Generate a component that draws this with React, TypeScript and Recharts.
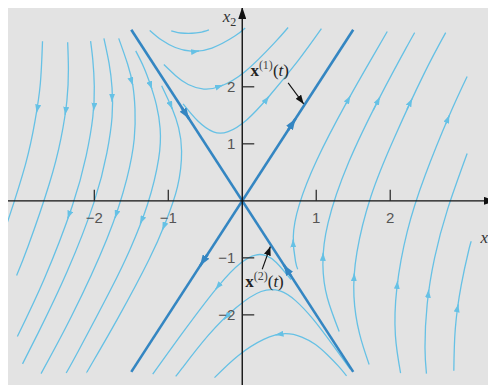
import React from 'react';
import { ComposedChart, Line, XAxis, YAxis, ReferenceDot } from 'recharts';

type P = [number, number];

// Plot window (x1 horizontally, x2 vertically)
const X_DOMAIN: [number, number] = [-3.18, 3.43];
const Y_DOMAIN: [number, number] = [-3.23, 3.4];

// Trajectories in the left sector, listed in the direction of motion (downward)
const leftTrajectories: P[][] = [
  [[-2.7, 2.8], [-2.73, 2.05], [-2.8, 1.41], [-2.93, 0.64], [-3.16, -0.32], [-3.22, -0.54]],
  [[-2.36, 2.78], [-2.35, 2.31], [-2.37, 1.76], [-2.45, 1.1], [-2.61, 0.29], [-2.89, -0.78], [-3.05, -1.31]],
  [[-2.05, 2.8], [-2.02, 2.47], [-2.0, 2.01], [-2.02, 1.47], [-2.11, 0.79], [-2.3, -0.1], [-2.67, -1.35], [-3.04, -2.38]],
  [[-1.87, 2.85], [-1.8, 2.41], [-1.76, 1.98], [-1.76, 1.47], [-1.83, 0.84], [-2.0, -0.01], [-2.37, -1.25], [-2.76, -2.32], [-2.97, -2.86]],
  [[-1.67, 2.85], [-1.55, 2.4], [-1.48, 2.03], [-1.45, 1.61], [-1.46, 1.09], [-1.56, 0.39], [-1.83, -0.67], [-2.31, -2.03], [-2.72, -3.03]],
  [[-1.44, 2.63], [-1.33, 2.34], [-1.24, 2.03], [-1.16, 1.68], [-1.11, 1.27], [-1.13, 0.74], [-1.28, -0.06], [-1.51, -0.83], [-1.78, -1.56], [-2.21, -2.62], [-2.38, -3.02]],
  [[-1.09, 2.02], [-0.945, 1.61], [-0.86, 1.28], [-0.82, 0.87], [-0.875, 0.25], [-1.035, -0.37], [-1.26, -1.03], [-1.69, -2.08], [-2.04, -2.87], [-2.1, -3.01]],
];

// Trajectories in the right sector (upward)
const rightTrajectories: P[][] = [
  [[0.75, -1.2], [0.72, -1.06], [0.69, -0.63], [0.77, -0.07], [1.01, 0.72], [1.4, 1.7], [1.75, 2.5], [1.96, 2.97]],
  [[1.31, -2.29], [1.15, -1.7], [1.09, -1.12], [1.16, -0.385], [1.44, 0.68], [1.86, 1.82], [2.21, 2.67], [2.33, 2.95]],
  [[1.715, -2.87], [1.585, -2.33], [1.51, -1.68], [1.55, -0.905], [1.74, 0.08], [2.05, 1.09], [2.45, 2.21], [2.75, 2.95]],
  [[2.14, -3.02], [2.07, -2.36], [2.09, -1.53], [2.23, -0.54], [2.47, 0.44], [2.8, 1.5], [3.04, 2.18]],
  [[2.49, -3.03], [2.47, -2.57], [2.5, -1.81], [2.6, -1.0], [2.775, -0.15], [3.04, 0.83]],
  [[2.86, -2.98], [2.88, -2.24], [2.96, -1.48], [3.06, -0.875], [3.095, -0.71]],
];

// Trajectories above the origin (left to right)
const upperTrajectories: P[][] = [
  [[-0.96, 2.98], [-0.87, 2.95], [-0.78, 2.94], [-0.68, 2.94], [-0.57, 2.955], [-0.45, 3.0]],
  [[-1.25, 2.99], [-1.09, 2.82], [-0.905, 2.69], [-0.69, 2.625], [-0.41, 2.68], [-0.1, 2.89], [0.04, 3.03]],
  [[-1.06, 2.39], [-0.9, 2.195], [-0.73, 2.04], [-0.52, 1.96], [-0.295, 2.01], [0.04, 2.27], [0.435, 2.77], [0.62, 3.04]],
  [[-0.8, 1.7], [-0.6, 1.4], [-0.39, 1.21], [-0.19, 1.215], [0.06, 1.42], [0.36, 1.83], [0.755, 2.46], [1.07, 3.02]],
];

// Trajectories below the origin (right to left)
const lowerTrajectories: P[][] = [
  [[1.41, -3.07], [1.3, -2.9], [1.15, -2.7], [0.99, -2.52], [0.805, -2.39], [0.58, -2.33], [0.29, -2.43], [-0.06, -2.72], [-0.375, -3.1]],
  [[1.46, -2.95], [1.23, -2.54], [0.96, -2.08], [0.72, -1.75], [0.51, -1.58], [0.255, -1.59], [-0.08, -1.87], [-0.46, -2.36], [-0.81, -2.93], [-0.9, -3.08]],
  [[0.66, -1.38], [0.46, -1.08], [0.32, -0.96], [0.18, -0.95], [-0.02, -1.09], [-0.32, -1.49], [-0.77, -2.25], [-1.21, -3.04]],
];

// Straight-line solutions x(1)(t) and x(2)(t)
const solutionOne: P[] = [[-1.5, -3.0], [1.5, 3.0]];
const solutionTwo: P[] = [[-1.5, 3.0], [1.5, -3.0]];

// Direction arrows on trajectories: [tail, tip]
const trajectoryArrows: [P, P][] = [
  [[-2.76, 1.68], [-2.78, 1.55]],
  [[-2.38, 1.64], [-2.395, 1.51]],
  [[-2.0, 1.69], [-2.01, 1.58]],
  [[-2.33, -0.2], [-2.36, -0.31]],
  [[-1.76, 1.84], [-1.76, 1.74]],
  [[-1.5, 2.11], [-1.48, 2.03]],
  [[-1.69, -0.185], [-1.72, -0.3]],
  [[-1.24, 2.03], [-1.22, 1.96]],
  [[-1.34, -0.285], [-1.38, -0.4]],
  [[-0.964, 1.67], [-0.945, 1.61]],
  [[-1.035, -0.37], [-1.08, -0.51]],
  [[0.689, -0.77], [0.687, -0.677]],
  [[1.4, 1.7], [1.46, 1.84]],
  [[1.09, -1.02], [1.094, -0.912]],
  [[1.77, 1.59], [1.86, 1.82]],
  [[1.51, -1.38], [1.515, -1.27]],
  [[2.225, 1.6], [2.295, 1.79]],
  [[2.09, -1.53], [2.1, -1.405]],
  [[2.75, 1.35], [2.8, 1.5]],
  [[2.51, -1.69], [2.52, -1.56]],
  [[2.9, -1.94], [2.92, -1.815]],
  [[-0.638, 2.62], [-0.585, 2.63]],
  [[-0.327, 2.0], [-0.26, 2.03]],
  [[0.307, 1.74], [0.36, 1.83]],
  [[0.505, -2.34], [0.45, -2.35]],
  [[-0.18, -1.985], [-0.25, -2.08]],
  [[-0.296, -1.45], [-0.36, -1.55]],
];

// Direction arrows on the straight-line solutions
const solutionArrows: [P, P][] = [
  [[0.62, 1.24], [0.72, 1.44]],
  [[-0.47, -0.94], [-0.57, -1.14]],
  [[-0.82, 1.64], [-0.72, 1.44]],
  [[0.66, -1.32], [0.56, -1.12]],
];

// Leader arrows from the labels to the lines
const pointerArrows: [P, P][] = [
  [[0.62, 2.07], [0.83, 1.7]],
  [[0.27, -1.2], [0.38, -0.8]],
];
const labelAnchors: P[] = [[0.11, 2.19], [0.04, -1.51]];
const labelIndices = ['(1)', '(2)'];

const xTicks = [-2, -1, 1, 2];
const xTickLabels = ['\u22122', '\u22121', '1', '2'];
const yTicks = [-2, -1, 1, 2];
const yTickLabels = ['\u22122', '\u22121', '1', '2'];

const xAxisLine: P[] = [[X_DOMAIN[0], 0], [X_DOMAIN[1], 0]];
const yAxisLine: P[] = [[0, Y_DOMAIN[0]], [0, Y_DOMAIN[1]]];

const CURVE = '#66c1e5';
const SOLUTION = '#3486c2';
const BG = '#e3e3e3';
const TICK_TEXT = '#555555';
const SANS = "'Liberation Sans', Arial, Helvetica, sans-serif";
const SERIF = "'Liberation Serif', 'Times New Roman', serif";

const toPts = (arr: P[]) => arr.map(([x, y]) => ({ x, y }));

function curve(key: string, pts: P[], stroke: string, width: number, type: 'natural' | 'linear', marker?: string) {
  return (
    <Line
      key={key}
      data={toPts(pts)}
      dataKey="y"
      type={type}
      stroke={stroke}
      strokeWidth={width}
      dot={false}
      activeDot={false}
      legendType="none"
      isAnimationActive={false}
      markerEnd={marker ? `url(#${marker})` : undefined}
    />
  );
}

export default function App() {
  return (
    <div style={{ marginLeft: -1, marginTop: -1, width: 489, height: 378, background: BG }}>
      <ComposedChart width={489} height={378} margin={{ top: 0, right: 0, bottom: 0, left: 0 }}>
        <defs>
          <marker id="headCurve" markerUnits="userSpaceOnUse" markerWidth={8} markerHeight={6} refX={8} refY={3} orient="auto">
            <path d="M0,0 L8,3 L0,6 Z" fill={CURVE} />
          </marker>
          <marker id="headSolution" markerUnits="userSpaceOnUse" markerWidth={11} markerHeight={8} refX={11} refY={4} orient="auto">
            <path d="M0,0 L11,4 L0,8 Z" fill={SOLUTION} />
          </marker>
          <marker id="headPointer" markerUnits="userSpaceOnUse" markerWidth={9} markerHeight={7} refX={9} refY={3.5} orient="auto">
            <path d="M0,0 L9,3.5 L0,7 Z" fill="#111" />
          </marker>
          <marker id="headAxis" markerUnits="userSpaceOnUse" markerWidth={12} markerHeight={8} refX={12} refY={4} orient="auto">
            <path d="M0,0 L12,4 L0,8 Z" fill="#111" />
          </marker>
        </defs>
        <XAxis hide type="number" dataKey="x" domain={X_DOMAIN} allowDataOverflow />
        <YAxis hide type="number" dataKey="y" domain={Y_DOMAIN} allowDataOverflow />

        {leftTrajectories.map((c, i) => curve(`l${i}`, c, CURVE, 1.3, 'natural'))}
        {rightTrajectories.map((c, i) => curve(`r${i}`, c, CURVE, 1.3, 'natural'))}
        {upperTrajectories.map((c, i) => curve(`u${i}`, c, CURVE, 1.3, 'natural'))}
        {lowerTrajectories.map((c, i) => curve(`d${i}`, c, CURVE, 1.3, 'natural'))}
        {trajectoryArrows.map((a, i) => curve(`ta${i}`, a, CURVE, 1.3, 'linear', 'headCurve'))}

        {curve('s1', solutionOne, SOLUTION, 2.6, 'linear')}
        {curve('s2', solutionTwo, SOLUTION, 2.6, 'linear')}
        {solutionArrows.map((a, i) => curve(`sa${i}`, a, SOLUTION, 2.6, 'linear', 'headSolution'))}

        {curve('ax', xAxisLine, '#111', 1.4, 'linear', 'headAxis')}
        {curve('ay', yAxisLine, '#111', 1.4, 'linear', 'headAxis')}
        {pointerArrows.map((a, i) => curve(`pa${i}`, a, '#111', 1.1, 'linear', 'headPointer'))}

        {xTicks.map((t, i) => (
          <ReferenceDot
            key={`xt${i}`}
            x={t}
            y={0}
            r={0}
            ifOverflow="visible"
            shape={(p: any) => (
              <g>
                <line x1={p.cx} x2={p.cx} y1={p.cy} y2={p.cy - 11} stroke="#222" strokeWidth={1.2} />
                <text x={p.cx} y={p.cy + 22} textAnchor="middle" fontFamily={SANS} fontSize={15} fill={TICK_TEXT}>
                  {xTickLabels[i]}
                </text>
              </g>
            )}
          />
        ))}
        {yTicks.map((t, i) => (
          <ReferenceDot
            key={`yt${i}`}
            x={0}
            y={t}
            r={0}
            ifOverflow="visible"
            shape={(p: any) => (
              <g>
                <line x1={p.cx} x2={p.cx + 12} y1={p.cy} y2={p.cy} stroke="#222" strokeWidth={1.2} />
                <text x={p.cx - 7} y={p.cy + 5.5} textAnchor="end" fontFamily={SANS} fontSize={15} fill={TICK_TEXT}>
                  {yTickLabels[i]}
                </text>
              </g>
            )}
          />
        ))}

        <ReferenceDot
          x={0}
          y={Y_DOMAIN[1]}
          r={0}
          ifOverflow="visible"
          shape={(p: any) => (
            <text x={p.cx - 6} y={p.cy + 15} textAnchor="end" fontFamily={SERIF} fontSize={17} fill="#333">
              <tspan fontStyle="italic">x</tspan>
              <tspan fontSize={12} dy={4}>2</tspan>
            </text>
          )}
        />
        <ReferenceDot
          x={X_DOMAIN[1]}
          y={0}
          r={0}
          ifOverflow="visible"
          shape={(p: any) => (
            <text x={p.cx - 2} y={p.cy + 42} textAnchor="end" fontFamily={SERIF} fontSize={17} fill="#333">
              <tspan fontStyle="italic">x</tspan>
              <tspan fontSize={12} dy={4}>1</tspan>
            </text>
          )}
        />

        {labelAnchors.map(([x, y], i) => (
          <ReferenceDot
            key={`lab${i}`}
            x={x}
            y={y}
            r={0}
            ifOverflow="visible"
            shape={(p: any) => (
              <text x={p.cx} y={p.cy} fontFamily={SERIF} fontSize={17} fill="#222">
                <tspan fontWeight="bold">x</tspan>
                <tspan fontSize={12} dy={-7} fill="#444">{labelIndices[i]}</tspan>
                <tspan dy={7}>(</tspan>
                <tspan fontStyle="italic">t</tspan>
                <tspan>)</tspan>
              </text>
            )}
          />
        ))}
      </ComposedChart>
    </div>
  );
}
